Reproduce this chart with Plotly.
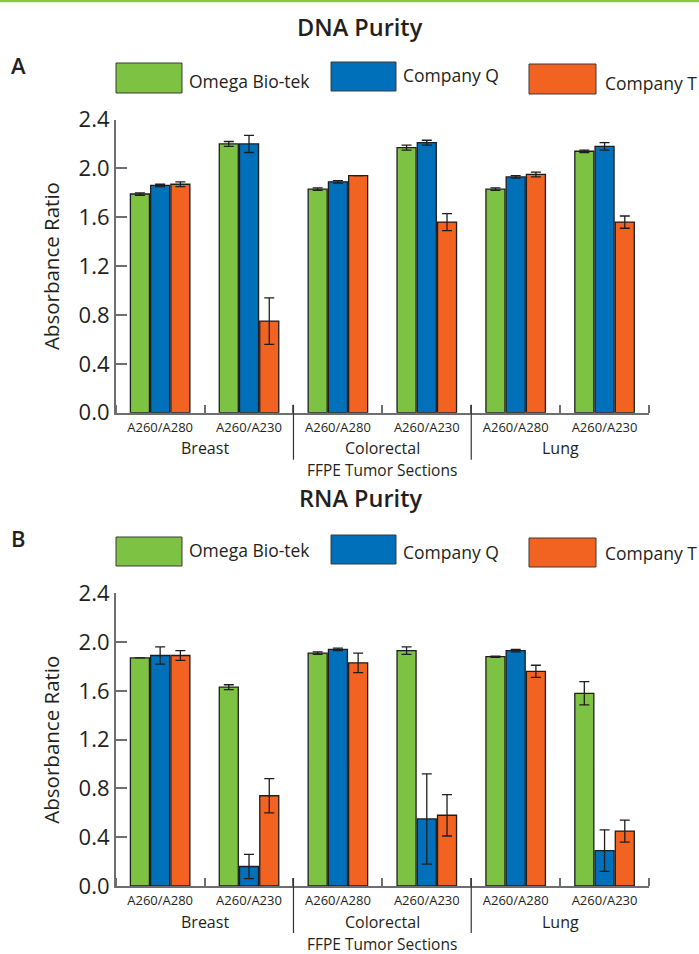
import plotly.graph_objects as go

W, H = 699, 954

tissues = ["Breast", "Breast", "Colorectal", "Colorectal", "Lung", "Lung"]
ratios = ["A260/A280", "A260/A230"] * 3
companies = ["Omega Bio-tek", "Company Q", "Company T"]
colors = ["#7dc243", "#0070bb", "#f26322"]

# DNA purity (panel A)
omega_dna = [1.79, 2.20, 1.83, 2.17, 1.83, 2.14]
omega_dna_err = [0.01, 0.02, 0.01, 0.02, 0.01, 0.01]
q_dna = [1.86, 2.20, 1.89, 2.21, 1.93, 2.18]
q_dna_err = [0.01, 0.07, 0.01, 0.02, 0.01, 0.03]
t_dna = [1.87, 0.75, 1.94, 1.56, 1.95, 1.56]
t_dna_err = [0.02, 0.19, None, 0.07, 0.02, 0.05]

# RNA purity (panel B)
omega_rna = [1.87, 1.63, 1.91, 1.93, 1.88, 1.58]
omega_rna_err = [None, 0.02, 0.01, 0.03, 0.005, 0.095]
q_rna = [1.89, 0.16, 1.94, 0.55, 1.93, 0.29]
q_rna_err = [0.07, 0.10, 0.01, 0.37, 0.01, 0.17]
t_rna = [1.89, 0.74, 1.83, 0.58, 1.76, 0.45]
t_rna_err = [0.04, 0.14, 0.08, 0.17, 0.05, 0.09]

y_ticks = [0.0, 0.4, 0.8, 1.2, 1.6, 2.0, 2.4]

FONT = "Open Sans"
TXT = "#231f20"
AX = "#6d6e71"

def px_x(x):
    return x / W

def px_y(y):
    return 1 - y / H

# category positions on the x axis (index of each tissue/ratio pair)
xpos = list(range(len(ratios)))
boundaries = [i - 0.5 for i in xpos] + [xpos[-1] + 0.5]
# group (tissue) spans
groups = []
for i, t in enumerate(tissues):
    if not groups or groups[-1][0] != t:
        groups.append([t, i, i])
    else:
        groups[-1][2] = i
dividers = [g[1] - 0.5 for g in groups[1:]]

fig = go.Figure()
panels = [
    ("x", "y", [omega_dna, q_dna, t_dna], [omega_dna_err, q_dna_err, t_dna_err]),
    ("x2", "y2", [omega_rna, q_rna, t_rna], [omega_rna_err, q_rna_err, t_rna_err]),
]
for xa, ya, vals, errs in panels:
    for name, col, v, e in zip(companies, colors, vals, errs):
        fig.add_trace(go.Bar(
            x=xpos, y=v, name=name, xaxis=xa, yaxis=ya, showlegend=False,
            marker=dict(color=col, line=dict(color="#1e1e1e", width=1.3)),
            error_y=dict(type="data", array=e, visible=True, color="#1e1e1e",
                         thickness=1.3, width=5),
        ))

xdom = [px_x(115.7), px_x(649)]
axis_px = {"top": 412.7, "bot": 886.0}
top_dom = [px_y(412.7), px_y(119.5)]
bot_dom = [px_y(886.0), px_y(593.3)]

def xaxis_cfg(anchor):
    return dict(
        domain=xdom, anchor=anchor, automargin=False,
        range=[boundaries[0], boundaries[-1]],
        tickvals=xpos, ticktext=ratios,
        showline=True, linecolor=AX, linewidth=1.5,
        ticks="", ticklabelstandoff=2,
        minor=dict(tickvals=boundaries, ticks="inside", ticklen=8,
                   tickcolor=AX, tickwidth=1.5, showgrid=False),
        tickfont=dict(family=FONT, size=13, color=TXT),
        showgrid=False, zeroline=False, fixedrange=True,
    )

def yaxis_cfg(anchor, dom):
    return dict(
        domain=dom, anchor=anchor, range=[0, 2.4], automargin=False,
        tickvals=y_ticks, ticktext=["%.1f" % t for t in y_ticks],
        showline=True, linecolor=AX, linewidth=1.5,
        ticks="inside", ticklen=12, tickcolor=AX, tickwidth=1.5,
        tickfont=dict(family=FONT, size=22, color=TXT),
        title=dict(text="Absorbance Ratio", font=dict(family=FONT, size=20.5, color=TXT), standoff=13),
        showgrid=False, zeroline=False, fixedrange=True,
    )

annotations = []
shapes = []

# top green rule
shapes.append(dict(type="line", xref="paper", yref="paper", x0=0, x1=1,
                   y0=px_y(1), y1=px_y(1), line=dict(color="#8dc63f", width=2.5)))

def add_axis_decor(xref, base):
    for d in dividers:
        shapes.append(dict(type="line", xref=xref, yref="paper", x0=d, x1=d,
                           y0=px_y(base - 8), y1=px_y(base + 47),
                           line=dict(color="#333333", width=1.2)))
    for name, i0, i1 in groups:
        annotations.append(dict(text=name, x=(i0 + i1) / 2, y=px_y(base + 35.5), xref=xref, yref="paper",
                                showarrow=False, xanchor="center", yanchor="middle", borderpad=0,
                                font=dict(family=FONT, size=16, color=TXT)))
    annotations.append(dict(text="FFPE Tumor Sections", x=(xpos[0] + xpos[-1]) / 2, y=px_y(base + 57.5),
                            xref=xref, yref="paper", showarrow=False, borderpad=0,
                            xanchor="center", yanchor="middle",
                            font=dict(family=FONT, size=15.5, color=TXT)))

add_axis_decor("x", axis_px["top"])
add_axis_decor("x2", axis_px["bot"])

def add_panel_header(title, title_y, letter, letter_y, sw_y, txt_y):
    annotations.append(dict(text=title, x=px_x(360), y=px_y(title_y), xref="paper", yref="paper",
                            showarrow=False, xanchor="center", yanchor="middle",
                            font=dict(family=FONT, size=23.5, color=TXT, weight=600)))
    annotations.append(dict(text=letter, x=px_x(9), y=px_y(letter_y), xref="paper", yref="paper",
                            showarrow=False, xanchor="left", yanchor="middle",
                            font=dict(family=FONT, size=22, color=TXT, weight=600)))
    sw_x = [(116, 182), (331, 396), (529, 596)]
    tx = [187, 401, 603]
    for (x0, x1), (y0, y1), ty, t, name, col in zip(sw_x, sw_y, txt_y, tx, companies, colors):
        shapes.append(dict(type="rect", xref="paper", yref="paper",
                           x0=px_x(x0), x1=px_x(x1), y0=px_y(y1), y1=px_y(y0),
                           fillcolor=col, line=dict(color="#3a3a3a", width=1)))
        annotations.append(dict(text=name, x=px_x(t), y=px_y(ty), xref="paper", yref="paper",
                                showarrow=False, xanchor="left", yanchor="middle",
                                font=dict(family=FONT, size=17.5, color=TXT)))

add_panel_header("DNA Purity", 27, "A", 65,
                 [(63, 93), (62, 91), (64, 94)], [81, 75, 83])
add_panel_header("RNA Purity", 498, "B", 538,
                 [(537, 566), (535, 564), (538, 567)], [550, 552, 553])

fig.update_layout(
    width=W, height=H,
    margin=dict(l=0, r=0, t=0, b=0, pad=0),
    template="none",
    paper_bgcolor="white", plot_bgcolor="white",
    barmode="group", bargap=0.317, bargroupgap=0.06,
    xaxis=xaxis_cfg("y"), yaxis=yaxis_cfg("x", top_dom),
    xaxis2=xaxis_cfg("y2"), yaxis2=yaxis_cfg("x2", bot_dom),
    annotations=annotations, shapes=shapes,
    font=dict(family=FONT, color=TXT),
    showlegend=False,
)

fig.write_html("out.html")
